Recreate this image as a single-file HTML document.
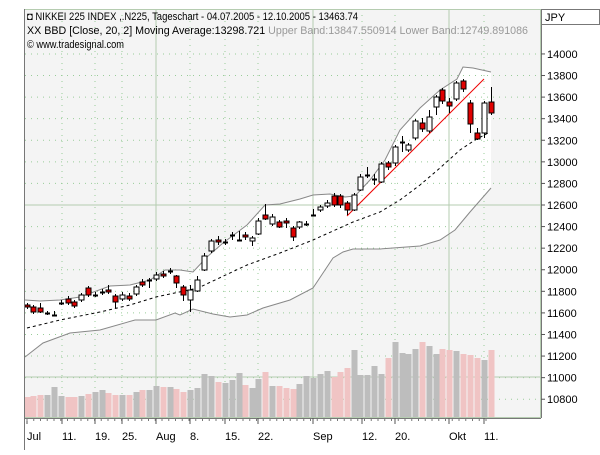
<!DOCTYPE html>
<html><head><meta charset="utf-8"><style>
body{margin:0;background:#fff;width:600px;height:450px;overflow:hidden;font-family:"Liberation Sans",sans-serif}
</style></head><body>
<svg id="s" width="600" height="450" xmlns="http://www.w3.org/2000/svg" font-family="Liberation Sans, sans-serif" font-size="11">
<rect x="25" y="9" width="516" height="409" fill="#f4f4f4"/>
<path id="band" fill="#fff" stroke="none"/>
<g id="grid"></g>
<line x1="25" y1="377" x2="541" y2="377" stroke="#b5ccb0"/>
<line x1="25" y1="205" x2="541" y2="205" stroke="#b5ccb0"/>
<line x1="156" y1="9" x2="156" y2="418" stroke="#b5ccb0"/>
<line x1="313" y1="9" x2="313" y2="418" stroke="#b5ccb0"/>
<line x1="449" y1="9" x2="449" y2="418" stroke="#b5ccb0"/>
<g id="vol"></g>
<polyline id="up" fill="none" stroke="#888" stroke-width="1"/>
<polyline id="lo" fill="none" stroke="#888" stroke-width="1"/>
<polyline id="mid" fill="none" stroke="#000" stroke-width="1" stroke-dasharray="3,3"/>
<line x1="347" y1="216" x2="484" y2="79" stroke="#e00" stroke-width="1"/>
<g id="cd"></g>
<rect x="24.5" y="9.5" width="516" height="408" fill="none" stroke="#b5ccb0"/>
<line x1="24.5" y1="9" x2="24.5" y2="450" stroke="#777"/>
<line x1="24" y1="418.5" x2="541" y2="418.5" stroke="#777"/>
<line x1="541.5" y1="9" x2="541.5" y2="418" stroke="#777"/>
<rect x="541.5" y="9.5" width="58" height="15" fill="#fff" stroke="#777"/>
<text x="545" y="21">JPY</text>
<text x="27" y="20" textLength="331" lengthAdjust="spacingAndGlyphs">◘ NIKKEI 225 INDEX ,.N225, Tageschart - 04.07.2005 - 12.10.2005 - 13463.74</text>
<text x="27" y="34" textLength="501" lengthAdjust="spacingAndGlyphs">XX BBD [Close, 20, 2] Moving Average:13298.721 <tspan fill="#999">Upper Band:13847.550914 Lower Band:12749.891086</tspan></text>
<text x="27" y="48" textLength="97" lengthAdjust="spacingAndGlyphs">© www.tradesignal.com</text>
<g id="yl"></g><g id="xl"></g>
</svg>
<script>
var NS="http://www.w3.org/2000/svg";
function el(p,t,a,txt){var e=document.createElementNS(NS,t);for(var k in a)e.setAttribute(k,a[k]);if(txt)e.textContent=txt;document.getElementById(p).appendChild(e);}
for(var v=10800;v<=14000;v+=200){var y=205-(v-12600)*0.1079;
 el("grid","line",{x1:25,x2:541,y1:y,y2:y,stroke:"#9c9","stroke-dasharray":"1,5"});
 el("yl","line",{x1:541,x2:545,y1:y,y2:y,stroke:"#555"});
 el("yl","text",{x:547,y:y+4},String(v));}
var xs=[[27,"Jul",0],[62,"11.",1],[95,"19.",1],[122,"25.",1],[156,"Aug",0],[190,"8.",1],[225,"15.",1],[258,"22.",1],[313,"Sep",0],[362,"12.",1],[395,"20.",1],[449,"Okt",0],[484,"11.",1]];
xs.forEach(function(a){if(a[2])el("grid","line",{x1:a[0],x2:a[0],y1:9,y2:418,stroke:"#9c9","stroke-dasharray":"1,5"});
 el("xl","line",{x1:a[0],x2:a[0],y1:418,y2:424,stroke:"#555"});el("xl","text",{x:a[0],y:440},a[1]);});
for(var x=27;x<=492;x+=6.75)el("xl","line",{x1:x,x2:x,y1:418,y2:421,stroke:"#777"});
var up=[[25,300],[40,301],[60,300],[80,297],[110,286],[130,285],[150,280],[165,270],[180,270],[193,272],[207,257],[223,243],[247,225],[265,205],[280,204],[300,199],[313,195],[330,194],[345,197],[355,196],[370,180],[385,160],[400,130],[420,108],[440,90],[457,79],[463,67],[473,68],[491,72]];
var mid=[[27,328],[60,320],[100,312],[130,305],[156,297],[198,288],[247,265],[280,253],[313,240],[353,222],[380,212],[400,200],[420,185],[440,168],[460,150],[475,140],[490,132]];
var lo=[[25,357],[43,343],[70,333],[100,330],[135,320],[156,320],[175,313],[180,315],[193,309],[213,314],[230,317],[247,315],[263,308],[290,300],[313,288],[323,273],[333,258],[343,252],[353,249],[380,249],[420,246],[440,240],[455,230],[470,212],[491,188]];
function pts(a){return a.map(function(p){return p.join(",")}).join(" ");}
document.getElementById("up").setAttribute("points",pts(up));
document.getElementById("lo").setAttribute("points",pts(lo));
document.getElementById("mid").setAttribute("points",pts(mid));
document.getElementById("band").setAttribute("d","M"+pts(up)+" L"+pts(lo.slice().reverse())+"Z");
var C=[[27,305,307,303,309,1],[33,307,312,305,314,1],[40,308,312,303,313,1],[47,313,313,311,315,2],[54,315,315,311,316,2],[61,303,303,300,305,2],[68,299,303,296,305,1],[74,302,306,300,308,1],[81,295,300,293,302,0],[88,288,295,286,297,1],[95,295,295,292,297,2],[102,292,292,289,295,2],[108,290,292,285,294,1],[115,296,302,294,308,1],[122,295,299,292,301,0],[129,296,299,293,301,1],[136,287,294,285,296,0],[142,282,285,279,287,1],[149,280,280,278,288,2],[156,275,279,272,281,0],[163,274,276,271,278,1],[170,271,271,268,274,2],[176,276,283,275,288,1],[183,287,295,285,301,1],[190,290,300,285,312,0],[197,280,291,276,292,0],[204,256,270,253,271,0],[211,241,251,239,253,0],[218,240,242,236,245,1],[225,242,242,239,245,2],[232,235,235,232,240,2],[239,240,240,231,241,2],[245,235,237,232,240,1],[252,238,241,236,246,0],[258,221,234,218,235,0],[265,215,219,204,220,1],[272,217,224,214,226,0],[279,222,227,220,228,1],[286,221,223,218,228,1],[293,228,237,226,241,1],[299,222,227,221,229,0],[306,224,224,221,226,2],[313,215,215,209,216,2],[320,207,210,205,212,0],[327,203,206,200,208,0],[334,196,205,193,207,1],[340,196,205,194,208,1],[347,203,210,201,215,1],[354,195,210,193,211,0],[360,177,190,174,191,0],[367,175,176,167,178,2],[374,179,177,174,185,2],[381,164,182,162,183,0],[388,163,167,161,170,1],[395,147,163,145,166,0],[402,142,142,136,152,2],[408,145,150,143,152,0],[415,121,138,119,140,0],[422,123,129,118,132,1],[429,117,131,110,133,0],[436,97,107,95,115,0],[442,90,101,88,104,1],[449,102,106,98,113,1],[456,83,99,81,101,0],[463,81,89,79,92,1],[470,103,124,100,133,1],[477,133,139,128,140,1],[484,103,133,101,138,0],[491,102,113,87,115,1]];
C.forEach(function(c){var x=c[0];
 el("cd","line",{x1:x+0.5,x2:x+0.5,y1:c[3],y2:c[4],stroke:"#000"});
 if(c[5]==2){el("cd","line",{x1:x-2,x2:x+3,y1:c[1]+0.5,y2:c[1]+0.5,stroke:"#000","stroke-width":2});}
 else el("cd","rect",{x:x-2,y:c[1],width:5,height:Math.max(2,c[2]-c[1]),fill:c[5]?"#e00000":"#fff",stroke:"#000"});});
var V=[397,396,395,395,387,396,397,397,396,394,392,390,393,395,395,395,392,390,390,386,387,387,389,392,390,388,374,376,382,383,380,373,385,388,379,372,386,386,388,389,384,376,378,374,371,377,372,368,350,375,375,366,374,358,342,353,354,349,342,346,354,349,350,351,354,355,358,360,350];
C.forEach(function(c,i){var t=V[i]||390;el("vol","rect",{x:c[0]-2.5,y:t,width:6,height:417-t,fill:c[5]==1?"#f0c4c4":"#bdbdbd"});});
</script>
</body></html>
